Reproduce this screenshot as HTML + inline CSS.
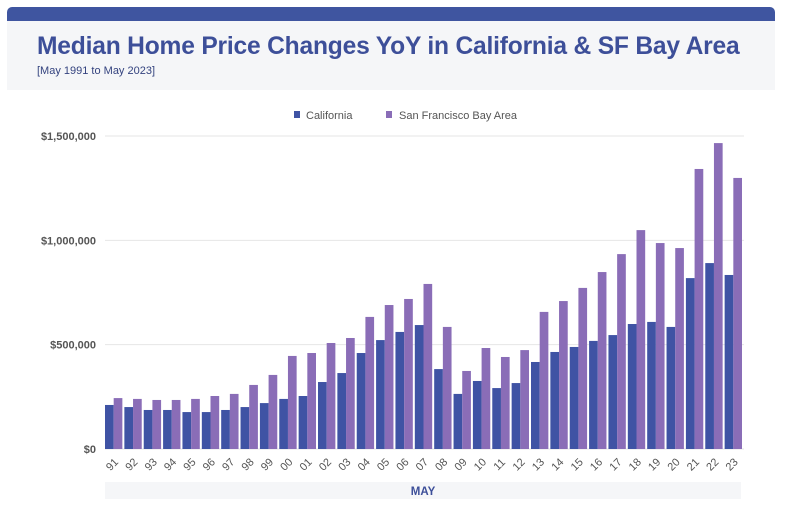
<!DOCTYPE html>
<html><head><meta charset="utf-8"><style>
body{margin:0;width:785px;height:519px;background:#fff;font-family:"Liberation Sans",sans-serif;overflow:hidden;position:relative}
#topbar{position:absolute;left:7px;top:7px;width:768px;height:14px;background:#3f55a0;border-radius:5px 5px 0 0}
#header{position:absolute;left:7px;top:21px;width:768px;height:69px;background:#f5f6f8}
#title{position:absolute;left:30px;top:12px;font-size:24.6px;font-weight:bold;color:#3d4f99;white-space:nowrap;letter-spacing:-0.2px}
#subtitle{position:absolute;left:30px;top:44px;font-size:11px;color:#34437f}
svg{position:absolute;left:0;top:0}
</style></head><body>
<div id="topbar"></div>
<div id="header">
<div id="title">Median Home Price Changes YoY in California &amp; SF Bay Area</div>
<div id="subtitle">[May 1991 to May 2023]</div>
</div>
<svg id="chart" width="785" height="519"></svg>
<script>
const categories=["91","92","93","94","95","96","97","98","99","00","01","02","03","04","05","06","07","08","09","10","11","12","13","14","15","16","17","18","19","20","21","22","23"];
const california=[211000,201000,187000,187000,177000,177000,187000,201000,220000,240000,254000,321000,364000,460000,522000,561000,594000,383000,264000,326000,292000,316000,417000,465000,489000,518000,546000,599000,609000,585000,819000,891000,834000];
const sfBayArea=[244000,240000,235000,235000,240000,254000,264000,307000,355000,446000,460000,508000,532000,633000,690000,719000,791000,585000,374000,484000,441000,474000,657000,709000,772000,848000,934000,1049000,987000,963000,1342000,1466000,1299000];
const yTicks=[0,500000,1000000,1500000];
const yTickLabels=["$0","$500,000","$1,000,000","$1,500,000"];
const NS="http://www.w3.org/2000/svg";
const svg=document.getElementById('chart');
const x0=105,x1=744,y0=449,y1=136,yMax=1500000;
const gw=(x1-x0)/categories.length;
const yS=v=>y0-(v/yMax)*(y0-y1);
const xS=i=>x0+i*gw;
function mk(t,a){const e=document.createElementNS(NS,t);for(const k in a)e.setAttribute(k,a[k]);svg.appendChild(e);return e;}
yTicks.forEach((v,i)=>{
 const g=mk('line',{x1:x0,x2:x1,y1:yS(v),y2:yS(v),stroke:'#e6e6e6','stroke-width':1});
 
 
 const t=mk('text',{x:96,y:yS(v)+4,'text-anchor':'end','font-size':11,'font-weight':'bold',fill:'#555'});
 t.textContent=yTickLabels[i];
 
 
});
const bw=gw/2-1;
categories.forEach((c,i)=>{
 const gx=xS(i);
 const a=mk('rect',{x:gx,y:yS(california[i]),width:bw,height:y0-yS(california[i]),fill:'#3f53a4'});
 
 
 const b=mk('rect',{x:gx+bw,y:yS(sfBayArea[i]),width:bw,height:y0-yS(sfBayArea[i]),fill:'#8a6db7'});
 
 
 const cx=gx+gw/2, cy=467;
 const t=mk('text',{x:cx,y:cy,'text-anchor':'middle','font-size':11,fill:'#555',transform:`rotate(-45 ${cx} ${cy})`});
 t.textContent=c;
 
 
});
const band=mk('rect',{x:105,y:482,width:636,height:17,fill:'#f5f6f8'});


const xt=mk('text',{x:423,y:495,'text-anchor':'middle','font-size':11.5,'font-weight':'bold',fill:'#3d4f99'});
xt.textContent='MAY';


const l1=mk('rect',{x:294,y:111,width:6,height:7,fill:'#3f53a4'});


const lt1=mk('text',{x:306,y:119,'font-size':11,fill:'#555'});
lt1.textContent='California';


const l2=mk('rect',{x:386,y:111,width:6,height:7,fill:'#8a6db7'});


const lt2=mk('text',{x:399,y:119,'font-size':11,fill:'#555'});
lt2.textContent='San Francisco Bay Area';


</script>
</body></html>
